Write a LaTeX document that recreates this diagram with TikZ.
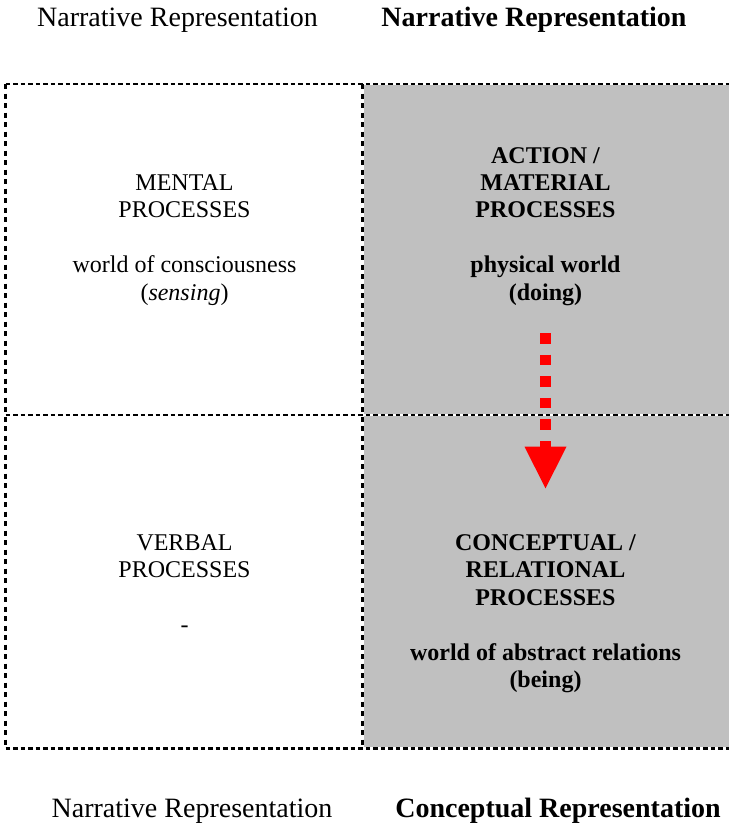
\documentclass[tikz,border=0pt]{standalone}
\usepackage{fontspec}
\setmainfont{Liberation Serif}
\usetikzlibrary{arrows.meta}
\definecolor{cellgray}{RGB}{192,192,192}
\definecolor{arrowred}{RGB}{255,0,0}

\begin{document}
\begin{tikzpicture}[x=1pt,y=-1pt,
  headlabel/.style={font=\fontsize{28}{32}\selectfont, anchor=base, inner sep=0pt},
  celltext/.style={font=\fontsize{24}{27.5}\selectfont, anchor=base, inner sep=0pt},
  boldtext/.style={celltext, font=\fontsize{24}{27.5}\selectfont\bfseries},
  gridline/.style={line width=2.3pt, dash pattern=on 4.5pt off 3pt},
  gridvline/.style={line width=2.3pt, dash pattern=on 5pt off 4.5pt},
]
\useasboundingbox (0,0) rectangle (729,827);

% shaded right column (split by the white strip of the middle rule)
\fill[cellgray] (363.7,85.2) rectangle (729,414.2);
\fill[cellgray] (363.7,416.4) rectangle (729,747.4);

% dashed frame and dividers
\draw[gridline] (5.5,84) -- (729,84);
\draw[gridline] (5.5,748.5) -- (729,748.5);
\draw[gridvline] (5.5,84) -- (5.5,748.5);
\draw[gridvline] (362.5,84) -- (362.5,748.5);
\draw[gridline] (5.5,415.3) -- (729,415.3);

% column headings
\node[headlabel] (headL) at (177.5,27) {Narrative Representation};
\node[headlabel, font=\fontsize{28}{32}\selectfont\bfseries] (headR) at (534,27) {Narrative Representation};
\node[headlabel] (footL) at (192,817) {Narrative Representation};
\node[headlabel, font=\fontsize{28}{32}\selectfont\bfseries] (footR) at (558,817) {Conceptual Representation};

% mental processes
\node[celltext] (m1) at (184.5,190) {MENTAL};
\node[celltext] (m2) at (184.5,217.5) {PROCESSES};
\node[celltext] (m3) at (184.5,272.5) {world of consciousness};
\node[celltext] (m4) at (184.5,300) {(\textit{sensing})};

% action / material processes
\node[boldtext] (a1) at (545.5,163) {ACTION /};
\node[boldtext] (a2) at (545.5,190) {MATERIAL};
\node[boldtext] (a3) at (545.5,217.5) {PROCESSES};
\node[boldtext] (a4) at (545.5,272.5) {physical world};
\node[boldtext] (a5) at (545.5,300) {(doing)};

% verbal processes
\node[celltext] (v1) at (184.5,550) {VERBAL};
\node[celltext] (v2) at (184.5,577.5) {PROCESSES};
\node[celltext] (v3) at (184.5,632.5) {-};

% conceptual / relational processes
\node[boldtext] (c1) at (545.5,550) {CONCEPTUAL /};
\node[boldtext] (c2) at (545.5,577.5) {RELATIONAL};
\node[boldtext] (c3) at (545.5,605) {PROCESSES};
\node[boldtext] (c4) at (545.5,660) {world of abstract relations};
\node[boldtext] (c5) at (545.5,687.5) {(being)};

% red dotted arrow from doing to being
\coordinate (arrowtop) at (545.5,333);
\coordinate (arrowtip) at (545.5,488.3);
\draw[arrowred, line width=10.6pt, dash pattern=on 10.6pt off 11pt,
  -{Triangle[width=42pt,length=41.6pt,line width=0pt]}] (arrowtop) -- (arrowtip);
\end{tikzpicture}
\end{document}
